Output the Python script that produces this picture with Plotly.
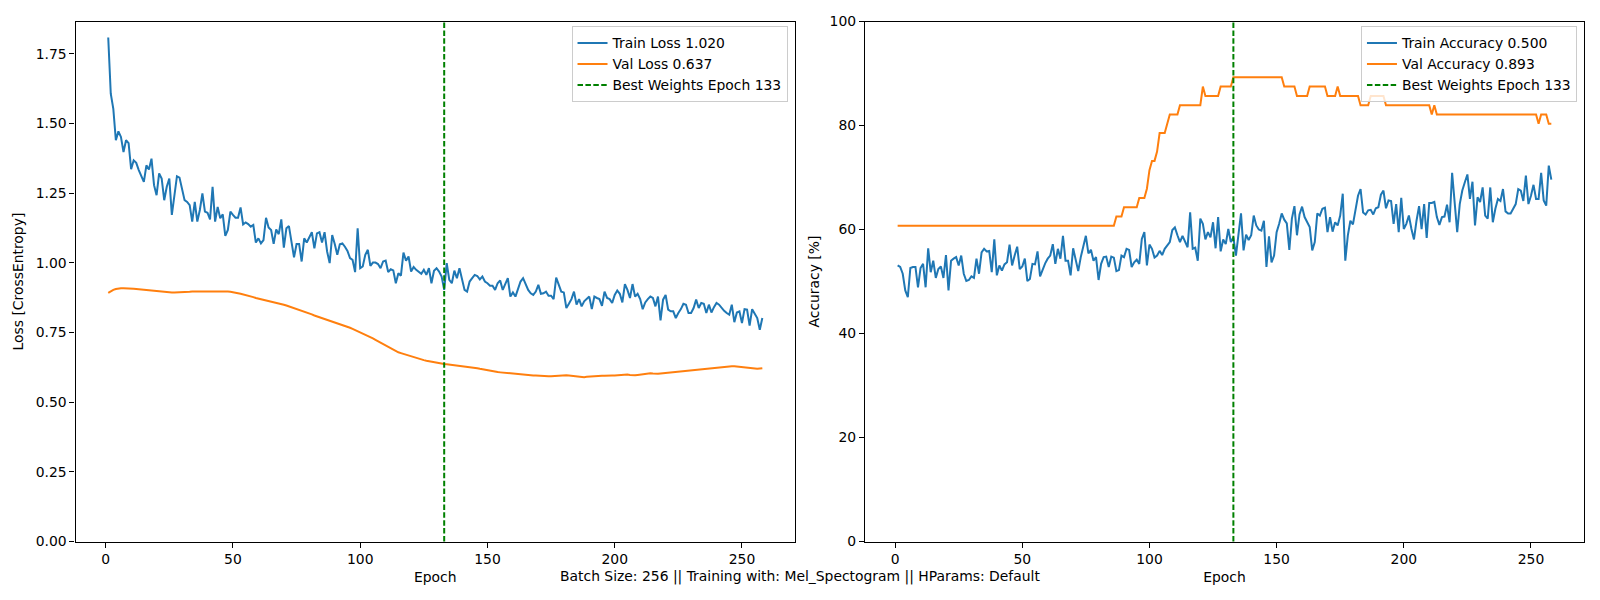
import plotly.graph_objects as go
from plotly.subplots import make_subplots

# Training history (one value per epoch)

train_loss = [
    1.809, 1.607, 1.553, 1.440, 1.472, 1.452, 1.398, 1.440, 1.430, 1.336,
    1.368, 1.359, 1.333, 1.315, 1.291, 1.350, 1.335, 1.374, 1.279, 1.243,
    1.321, 1.303, 1.225, 1.273, 1.303, 1.172, 1.237, 1.311, 1.306, 1.261,
    1.225, 1.219, 1.207, 1.148, 1.219, 1.148, 1.190, 1.249, 1.184, 1.180,
    1.156, 1.273, 1.148, 1.201, 1.160, 1.174, 1.097, 1.118, 1.184, 1.172,
    1.162, 1.162, 1.199, 1.138, 1.145, 1.139, 1.130, 1.136, 1.073, 1.088,
    1.070, 1.082, 1.162, 1.127, 1.118, 1.068, 1.120, 1.103, 1.156, 1.055,
    1.124, 1.132, 1.082, 1.020, 1.068, 1.068, 1.005, 1.088, 1.073, 1.094,
    1.110, 1.052, 1.106, 1.110, 1.073, 1.110, 1.041, 0.999, 1.100, 1.068,
    1.029, 1.067, 1.070, 1.058, 1.043, 1.017, 1.011, 0.967, 1.124, 0.981,
    0.987, 1.029, 1.047, 0.989, 1.001, 1.001, 0.996, 0.981, 1.005, 1.008,
    0.967, 0.977, 0.973, 0.927, 0.963, 0.954, 1.037, 1.008, 1.023, 0.969,
    0.985, 0.975, 0.969, 0.961, 0.975, 0.957, 0.981, 0.927,
    0.972, 0.981, 0.969, 0.951, 0.903, 0.999, 0.939, 0.927, 0.972, 0.945,
    0.981, 0.939, 0.903, 0.897, 0.933, 0.945, 0.957, 0.953, 0.941, 0.951,
    0.933, 0.927, 0.918, 0.918, 0.903, 0.927, 0.937, 0.903, 0.921, 0.945,
    0.879, 0.894, 0.879, 0.903, 0.933, 0.945, 0.921, 0.903, 0.891, 0.885,
    0.897, 0.921, 0.889, 0.891, 0.897, 0.882, 0.882, 0.870, 0.947, 0.921,
    0.897, 0.894, 0.838, 0.853, 0.870, 0.897, 0.850, 0.870, 0.844, 0.862,
    0.870, 0.879, 0.834, 0.879, 0.874, 0.870, 0.846, 0.897, 0.874, 0.870,
    0.856, 0.885, 0.901, 0.889, 0.858, 0.924, 0.903, 0.874, 0.924, 0.879,
    0.889, 0.870, 0.834, 0.858, 0.870, 0.879, 0.874, 0.844, 0.879,
    0.794, 0.868, 0.885, 0.832, 0.826, 0.826, 0.802, 0.820, 0.834, 0.853,
    0.850, 0.820, 0.820, 0.838, 0.868, 0.838, 0.856, 0.853, 0.820, 0.850,
    0.822, 0.841, 0.856, 0.850, 0.838, 0.828, 0.820, 0.814, 0.850, 0.787,
    0.822, 0.826, 0.784, 0.834, 0.832, 0.775, 0.834, 0.820, 0.802, 0.760,
    0.802,
]

val_loss = [
    0.892, 0.898, 0.903, 0.906, 0.908, 0.909, 0.909, 0.909, 0.909, 0.908,
    0.907, 0.906, 0.905, 0.904, 0.903, 0.902, 0.901, 0.900, 0.899, 0.898,
    0.897, 0.896, 0.895, 0.895, 0.894, 0.894, 0.894, 0.894, 0.894, 0.894,
    0.895, 0.895, 0.896, 0.897, 0.897, 0.898, 0.898, 0.899, 0.899, 0.899,
    0.899, 0.899, 0.899, 0.899, 0.898, 0.898, 0.898, 0.897, 0.896, 0.895,
    0.893, 0.891, 0.889, 0.887, 0.884, 0.882, 0.879, 0.877, 0.874, 0.872,
    0.870, 0.868, 0.866, 0.864, 0.862, 0.860, 0.858, 0.856, 0.853, 0.850,
    0.847, 0.844, 0.841, 0.838, 0.835, 0.832, 0.828, 0.825, 0.822, 0.818,
    0.815, 0.811, 0.808, 0.805, 0.801, 0.798, 0.795, 0.791, 0.788, 0.785,
    0.782, 0.779, 0.776, 0.773, 0.770, 0.767, 0.763, 0.759, 0.755, 0.751,
    0.747, 0.743, 0.739, 0.734, 0.729, 0.724, 0.719, 0.713, 0.707, 0.701,
    0.696, 0.691, 0.686, 0.682, 0.679, 0.676, 0.673, 0.670, 0.667, 0.664,
    0.661, 0.658, 0.655, 0.653, 0.651, 0.649, 0.647, 0.645, 0.644, 0.642,
    0.641, 0.639, 0.637, 0.636, 0.635, 0.634, 0.633, 0.632, 0.631, 0.630,
    0.629, 0.628, 0.626, 0.625, 0.623, 0.622, 0.620, 0.618, 0.616, 0.614,
    0.612, 0.610, 0.609, 0.608, 0.607, 0.606, 0.605, 0.604, 0.603, 0.602,
    0.601, 0.600, 0.599, 0.599, 0.598, 0.597, 0.597, 0.596, 0.596, 0.595,
    0.594, 0.594, 0.593, 0.593, 0.593, 0.594, 0.594, 0.595, 0.596, 0.597,
    0.597, 0.596, 0.595, 0.594, 0.592, 0.591, 0.590, 0.590, 0.591, 0.592,
    0.593, 0.594, 0.595, 0.595, 0.595, 0.595, 0.596, 0.596, 0.596, 0.596,
    0.597, 0.597, 0.598, 0.599, 0.599, 0.598, 0.597, 0.597, 0.598, 0.599,
    0.601, 0.603, 0.604, 0.604, 0.603, 0.602, 0.602, 0.603, 0.604, 0.605,
    0.606, 0.607, 0.608, 0.609, 0.610, 0.611, 0.612, 0.613, 0.614, 0.615,
    0.616, 0.617, 0.618, 0.619, 0.620, 0.621, 0.622, 0.622, 0.623, 0.624,
    0.625, 0.626, 0.627, 0.628, 0.629, 0.629, 0.629, 0.628, 0.627, 0.626,
    0.625, 0.623, 0.621, 0.620, 0.619, 0.620, 0.621, 0.622,
]

train_acc = [
    53.1, 52.8, 51.5, 48.3, 47.0, 52.6, 52.8, 52.8, 48.9, 52.6,
    53.4, 48.9, 56.4, 51.8, 54.0, 50.7, 52.4, 52.9, 50.7, 55.1,
    48.3, 54.0, 54.4, 54.7, 53.1, 55.0, 51.5, 50.1, 50.3, 51.0,
    50.7, 54.4, 51.5, 55.6, 56.3, 55.8, 55.9, 51.8, 58.1, 51.2,
    53.1, 52.1, 53.3, 53.7, 57.1, 53.1, 55.0, 56.7, 52.4, 52.9,
    54.4, 50.1, 50.5, 53.4, 53.3, 55.8, 51.0, 52.4, 53.5, 54.4,
    55.0, 57.2, 53.4, 56.3, 54.4, 58.8, 54.0, 54.0, 51.2, 56.4,
    54.4, 52.0, 54.7, 56.6, 58.8, 55.4, 56.1, 54.0, 54.7, 50.3,
    53.4, 54.7, 54.8, 52.8, 54.8, 54.6, 52.0, 52.2, 55.0, 54.7,
    56.3, 56.1, 52.8, 53.7, 54.2, 53.4, 58.2, 59.5, 53.1, 57.1,
    56.3, 54.6, 55.0, 55.9, 55.1, 56.3, 56.9, 57.6, 59.9, 60.4,
    58.9, 57.6, 58.8, 57.6, 56.6,
    63.3, 56.3, 56.5, 54.0, 62.1, 61.1, 58.1, 59.5, 58.5, 61.4,
    56.4, 62.4, 55.8, 58.1, 57.2, 60.1, 57.6, 58.5, 55.0, 59.2,
    63.1, 56.0, 59.0, 58.0, 58.9, 62.7, 60.8, 60.0, 59.8, 61.7,
    52.8, 58.7, 53.7, 55.0, 59.5, 61.1, 63.1, 61.9, 61.2, 56.1,
    62.1, 64.5, 58.9, 62.9, 64.4, 62.4, 61.4, 60.5, 56.0, 57.6,
    63.1, 62.7, 64.0, 64.2, 59.5, 62.4, 59.6, 61.4, 60.8, 62.7,
    66.9, 54.0, 58.9, 61.7, 61.0, 63.7, 66.5, 67.8, 63.3, 62.9,
    63.7, 63.8, 62.9, 64.1, 64.3,
    66.7, 67.5, 64.1, 65.6, 65.5, 61.1, 64.9, 59.5, 66.1, 60.1,
    61.1, 62.7, 60.1, 58.1, 61.7, 64.5, 60.1, 64.9, 58.4, 65.1,
    65.1, 65.3, 62.4, 60.9, 62.4, 62.5, 64.8, 61.4, 70.9, 64.9,
    59.5, 64.9, 67.5, 69.1, 70.6, 65.9, 69.2, 60.8, 66.2, 65.3,
    68.1, 62.7, 62.1, 68.1, 61.4, 64.0, 65.9, 65.5, 67.8, 63.5,
    63.1, 63.1, 64.0, 64.9, 67.8, 67.5, 65.5, 70.4, 64.9, 66.5,
    68.6, 65.9, 65.9, 70.9, 65.6, 64.6, 72.3, 69.6,
]

val_acc = [
    60.71, 60.71, 60.71, 60.71, 60.71, 60.71, 60.71, 60.71, 60.71, 60.71,
    60.71, 60.71, 60.71, 60.71, 60.71, 60.71, 60.71, 60.71, 60.71, 60.71,
    60.71, 60.71, 60.71, 60.71, 60.71, 60.71, 60.71, 60.71, 60.71, 60.71,
    60.71, 60.71, 60.71, 60.71, 60.71, 60.71, 60.71, 60.71, 60.71, 60.71,
    60.71, 60.71, 60.71, 60.71, 60.71, 60.71, 60.71, 60.71, 60.71, 60.71,
    60.71, 60.71, 60.71, 60.71, 60.71, 60.71, 60.71, 60.71, 60.71, 60.71,
    60.71, 60.71, 60.71, 60.71, 60.71, 60.71, 60.71, 60.71, 60.71, 60.71,
    60.71, 60.71, 60.71, 60.71, 60.71, 60.71, 60.71, 60.71, 60.71, 60.71,
    60.71, 60.71, 60.71, 60.71, 60.71, 60.71, 62.50, 62.50, 62.50, 64.29,
    64.29, 64.29, 64.29, 64.29, 64.29, 66.07, 66.07, 66.07, 67.86, 71.43,
    73.21, 73.21, 75.00, 78.57, 78.57, 78.57, 80.36, 82.14, 82.14, 82.14,
    82.14, 83.93, 83.93, 83.93, 83.93, 83.93, 83.93, 83.93, 83.93, 83.93,
    87.50, 85.71, 85.71, 85.71, 85.71, 85.71, 85.71, 87.50, 87.50, 87.50,
    87.50, 87.50, 89.29, 89.29, 89.29, 89.29, 89.29, 89.29, 89.29, 89.29,
    89.29, 89.29, 89.29, 89.29, 89.29, 89.29, 89.29, 89.29, 89.29, 89.29,
    89.29, 89.29, 87.50, 87.50, 87.50, 87.50, 87.50, 85.71, 85.71, 85.71,
    85.71, 85.71, 87.50, 87.50, 87.50, 87.50, 87.50, 87.50, 87.50, 85.71,
    85.71, 85.71, 85.71, 87.50, 85.71, 85.71, 85.71, 85.71, 85.71, 85.71,
    85.71, 85.71, 83.93, 83.93, 83.93, 83.93, 85.71, 85.71, 85.71, 85.71,
    85.71, 85.71, 83.93, 83.93, 83.93, 83.93, 83.93, 83.93, 83.93, 83.93,
    83.93, 83.93, 83.93, 83.93, 83.93, 83.93, 83.93, 83.93, 83.93, 83.93,
    82.14, 83.93, 82.14, 82.14, 82.14, 82.14, 82.14, 82.14, 82.14, 82.14,
    82.14, 82.14, 82.14, 82.14, 82.14, 82.14, 82.14, 82.14, 82.14, 82.14,
    82.14, 82.14, 82.14, 82.14, 82.14, 82.14, 82.14, 82.14, 82.14, 82.14,
    82.14, 82.14, 82.14, 82.14, 82.14, 82.14, 82.14, 82.14, 82.14, 82.14,
    82.14, 82.14, 80.36, 82.14, 82.14, 82.14, 80.36, 80.36,
]

epochs = list(range(1, len(train_loss) + 1))
best_epoch = 133

epoch_ticks = [0, 50, 100, 150, 200, 250]
loss_ticks = [0.0, 0.25, 0.5, 0.75, 1.0, 1.25, 1.5, 1.75]
acc_ticks = [0, 20, 40, 60, 80, 100]

loss_labels = ['Train Loss 1.020', 'Val Loss 0.637']
acc_labels = ['Train Accuracy 0.500', 'Val Accuracy 0.893']
best_label = f'Best Weights Epoch {best_epoch}'
footer = 'Batch Size: 256 || Training with: Mel_Spectogram || HParams: Default'

BLUE = '#1f77b4'
ORANGE = '#ff7f0e'
FONT = 'DejaVu Sans'
FS = 13.9

fig = make_subplots(rows=1, cols=2)

fig.add_trace(go.Scatter(x=epochs, y=train_loss, mode='lines', name=loss_labels[0],
                         line=dict(color=BLUE, width=2), legend='legend'), row=1, col=1)
fig.add_trace(go.Scatter(x=epochs, y=val_loss, mode='lines', name=loss_labels[1],
                         line=dict(color=ORANGE, width=2), legend='legend'), row=1, col=1)
fig.add_trace(go.Scatter(x=epochs, y=train_acc, mode='lines', name=acc_labels[0],
                         line=dict(color=BLUE, width=2), legend='legend2'), row=1, col=2)
fig.add_trace(go.Scatter(x=epochs, y=val_acc, mode='lines', name=acc_labels[1],
                         line=dict(color=ORANGE, width=2), legend='legend2'), row=1, col=2)

# best weights marker, spans the whole axes like axvline
for xref, yref, leg in [('x', 'y domain', 'legend'), ('x2', 'y2 domain', 'legend2')]:
    fig.add_shape(type='line', xref=xref, yref=yref, x0=best_epoch, x1=best_epoch, y0=0, y1=1,
                  line=dict(color='green', width=2, dash='5.5px,2.4px'),
                  showlegend=True, name=best_label, legend=leg)

axis_style = dict(
    showline=True, linecolor='black', linewidth=1.1, mirror=True,
    ticks='outside', ticklen=5, tickwidth=1.1, tickcolor='black',
    showgrid=False, zeroline=False, automargin=False,
    tickfont=dict(family=FONT, size=FS, color='black'),
)

fig.update_xaxes(**axis_style, tickvals=epoch_ticks, range=[-11.85, 270.85],
                 title=dict(text='Epoch', font=dict(family=FONT, size=FS, color='black'), standoff=6))
fig.update_xaxes(domain=[0.0472, 0.4969], row=1, col=1)
fig.update_xaxes(domain=[0.5406, 0.99], row=1, col=2)

fig.update_yaxes(**axis_style, domain=[0.0975, 0.964])
fig.update_yaxes(tickvals=loss_ticks, tickformat='.2f', range=[0, 1.866],
                 title=dict(text='Loss [CrossEntropy]', font=dict(family=FONT, size=FS, color='black'), standoff=8),
                 row=1, col=1)
fig.update_yaxes(tickvals=acc_ticks, range=[0, 100],
                 title=dict(text='Accuracy [%]', font=dict(family=FONT, size=FS, color='black'), standoff=6),
                 row=1, col=2)

legend_style = dict(
    bgcolor='rgba(255,255,255,0.8)', bordercolor='#cccccc', borderwidth=1,
    font=dict(family=FONT, size=FS, color='black'),
    xanchor='right', yanchor='top', y=0.956, tracegroupgap=0, itemwidth=30,
)

fig.add_annotation(text=footer, xref='paper', yref='paper', x=0.5, y=0.04,
                   xanchor='center', yanchor='middle', showarrow=False,
                   font=dict(family=FONT, size=FS, color='black'))

fig.update_layout(
    width=1600, height=600,
    margin=dict(l=0, r=0, t=0, b=0),
    plot_bgcolor='white', paper_bgcolor='white',
    font=dict(family=FONT, size=FS, color='black'),
    legend=dict(**legend_style, x=0.4922),
    legend2=dict(**legend_style, x=0.9856),
)

# drop the browser's default 8px body margin so the figure sits at the page corner
fig.write_html("out.html", config={'displayModeBar': False},
               post_script="document.body.style.margin='0';")
